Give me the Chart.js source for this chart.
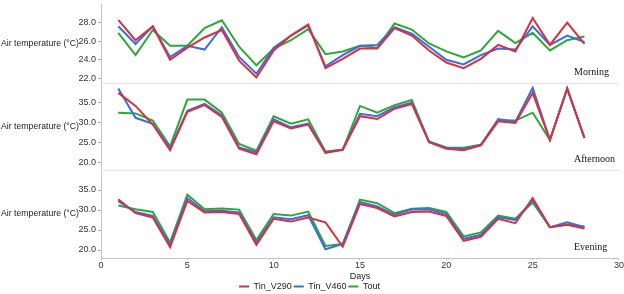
<!DOCTYPE html>
<html>
<head>
<meta charset="utf-8">
<script src="https://cdn.jsdelivr.net/npm/chart.js@4.4.1/dist/chart.umd.min.js"></script>
<style>
  body { margin: 0; background: #fff; }
  canvas { display: block; }
</style>
</head>
<body>
<canvas id="canvas" width="624" height="294"></canvas>
<script>
var days = [1, 2, 3, 4, 5, 6, 7, 8, 9, 10, 11, 12, 13, 14, 15, 16, 17, 18, 19, 20, 21, 22, 23, 24, 25, 26, 27, 28];
var seriesNames = ['Tin_V290', 'Tin_V460', 'Tout'];
var panelNames = ['Morning', 'Afternoon', 'Evening'];

var morningV290 = [28.3, 26.1, 27.6, 24.0, 25.3, 26.4, 27.2, 23.9, 22.1, 25.0, 26.6, 27.8, 23.1, 24.1, 25.2, 25.2, 27.4, 26.6, 25.0, 23.7, 23.1, 24.1, 25.6, 24.9, 28.5, 25.6, 28.0, 25.7];
var morningV460 = [27.6, 25.7, 27.6, 24.3, 25.5, 25.1, 27.5, 24.3, 22.5, 25.3, 26.6, 27.7, 23.3, 24.5, 25.5, 25.6, 27.5, 26.8, 25.4, 24.0, 23.5, 24.5, 25.2, 25.1, 27.6, 25.6, 26.6, 25.9];
var morningOut  = [26.9, 24.5, 27.2, 25.5, 25.5, 27.4, 28.25, 25.4, 23.4, 25.2, 26.1, 27.3, 24.6, 24.9, 25.5, 25.3, 27.9, 27.25, 25.75, 24.9, 24.25, 25.0, 27.1, 25.8, 26.9, 25.0, 26.1, 26.5];

var afternoonV290 = [37.5, 34.2, 29.5, 23.0, 32.7, 34.4, 31.4, 23.4, 22.0, 30.3, 28.5, 29.5, 22.3, 23.1, 31.6, 30.9, 33.5, 34.7, 25.0, 23.4, 23.0, 24.2, 30.3, 29.9, 37.5, 25.6, 38.6, 26.1];
var afternoonV460 = [38.6, 31.2, 29.7, 23.4, 33.0, 34.7, 31.8, 23.7, 22.5, 30.8, 28.8, 29.7, 22.5, 23.2, 32.2, 31.6, 33.9, 35.0, 25.1, 23.6, 23.3, 24.3, 30.9, 30.2, 38.8, 25.6, 38.6, 26.1];
var afternoonOut  = [32.5, 32.3, 30.5, 24.0, 35.8, 35.8, 32.5, 24.6, 22.9, 31.6, 29.7, 30.8, 22.7, 23.1, 34.2, 32.5, 34.4, 35.7, 25.2, 23.7, 23.6, 24.4, 30.6, 30.5, 32.5, 25.6, 38.6, 26.1];

var eveningV290 = [32.7, 29.2, 28.1, 20.7, 32.3, 29.4, 29.5, 29.0, 21.3, 27.8, 27.1, 28.1, 26.9, 20.8, 31.5, 30.5, 28.4, 29.5, 29.6, 28.5, 22.3, 23.3, 27.8, 26.7, 33.0, 25.7, 26.3, 25.4];
var eveningV460 = [32.2, 29.5, 28.5, 21.3, 33.0, 29.7, 29.8, 29.4, 21.8, 28.2, 27.7, 28.7, 20.2, 21.5, 32.0, 30.9, 28.8, 30.1, 30.2, 29.0, 22.8, 23.8, 28.2, 27.5, 32.4, 25.7, 26.9, 25.7];
var eveningOut  = [31.1, 30.2, 29.5, 21.9, 33.8, 30.2, 30.4, 30.1, 22.5, 29.0, 28.6, 29.6, 21.0, 21.5, 32.6, 31.7, 29.2, 30.3, 30.5, 29.5, 23.4, 24.4, 28.6, 27.8, 31.9, 25.7, 26.4, 25.9];

// y tick marks (major get a label, minor only a tick)
var morningTicks = [22, 24, 26, 28];
var morningMinor = [23, 25, 27, 29];
var tempTicks = [20, 25, 30, 35];
var tempMinor = [22.5, 27.5, 32.5, 37.5];
var xTicks = [0, 5, 10, 15, 20, 25, 30];

var colors = ['#d8303e', '#3a6ee0', '#2da737'];
var font = 'Liberation Sans';

function pts(arr) {
    return days.map(function (d, i) { return {x: d, y: arr[i]}; });
}

var datasets = [];
var panelData = [
    ['yM', [morningV290, morningV460, morningOut]],
    ['yA', [afternoonV290, afternoonV460, afternoonOut]],
    ['yE', [eveningV290, eveningV460, eveningOut]]
];
panelData.forEach(function (p) {
    p[1].forEach(function (arr, j) {
        datasets.push({
            label: seriesNames[j],
            yAxisID: p[0],
            data: pts(arr),
            borderColor: colors[j],
            backgroundColor: colors[j],
            borderWidth: 2,
            pointRadius: 0,
            tension: 0,
            fill: false
        });
    });
});

function yAxis(min, max, major, minor, weight) {
    return {
        type: 'linear',
        position: 'left',
        stack: 'temps',
        stackWeight: weight,
        min: min,
        max: max,
        border: {color: '#c4c4c4'},
        grid: {
            drawOnChartArea: false,
            tickLength: 3,
            tickColor: function (c) { return major.indexOf(c.tick.value) >= 0 ? '#aaa' : '#d4d4d4'; }
        },
        ticks: {
            padding: 2,
            color: '#333',
            font: {family: font, size: 9},
            callback: function (v) { return major.indexOf(v) >= 0 ? v.toFixed(1) : ''; }
        },
        afterBuildTicks: function (s) {
            s.ticks = major.concat(minor).sort(function (a, b) { return a - b; })
                .map(function (v) { return {value: v}; });
        },
        afterFit: function (s) {
            s.width = 101;
            s.paddingTop = 0;
            s.paddingBottom = 0;
        }
    };
}

var panelDeco = {
    id: 'panelDeco',
    beforeDatasetsDraw: function (chart) {
        var ctx = chart.ctx, a = chart.chartArea;
        ctx.save();
        ctx.strokeStyle = '#e3e3e3';
        ctx.lineWidth = 1;
        ['yM', 'yA'].forEach(function (id) {
            var y = Math.round(chart.scales[id].bottom) + 0.5;
            ctx.beginPath();
            ctx.moveTo(a.left, y);
            ctx.lineTo(a.right, y);
            ctx.stroke();
        });
        ctx.restore();
    },
    afterDraw: function (chart) {
        var ctx = chart.ctx;
        ctx.save();
        ['yM', 'yA', 'yE'].forEach(function (id, i) {
            var s = chart.scales[id];
            ctx.fillStyle = '#222';
            ctx.font = '9px "' + font + '"';
            ctx.textAlign = 'left';
            ctx.textBaseline = 'middle';
            ctx.fillText('Air temperature (°C)', 1, (s.top + s.bottom) / 2, 78);
            ctx.fillStyle = '#111';
            ctx.font = '10px "Liberation Serif"';
            ctx.fillText(panelNames[i], 574, s.bottom - 11);
        });
        ctx.restore();
    }
};

var config = {
    type: 'line',
    data: {datasets: datasets},
    options: {
        responsive: false,
        animation: false,
        devicePixelRatio: 1,
        layout: {padding: {top: 4, right: 5, left: 0, bottom: 0}},
        plugins: {
            tooltip: {enabled: false},
            legend: {
                position: 'bottom',
                maxHeight: 14,
                labels: {
                    usePointStyle: true,
                    pointStyle: 'line',
                    pointStyleWidth: 10,
                    boxHeight: 9,
                    padding: 2,
                    color: '#222',
                    font: {family: font, size: 9},
                    filter: function (item) { return item.datasetIndex < 3; }
                }
            }
        },
        scales: {
            x: {
                type: 'linear',
                min: 0,
                max: 30,
                border: {color: '#c4c4c4'},
                grid: {drawOnChartArea: false, tickLength: 2, color: '#c4c4c4'},
                ticks: {padding: 0, color: '#333', font: {family: font, size: 9}},
                afterBuildTicks: function (s) {
                    s.ticks = xTicks.map(function (v) { return {value: v}; });
                },
                title: {
                    display: true,
                    text: 'Days',
                    color: '#222',
                    font: {family: font, size: 9},
                    padding: {top: 0, bottom: -2}
                },
                afterFit: function (s) { s.height = 22; }
            },
            // stacked left axes: the last one listed ends up on top
            yE: yAxis(18, 40, tempTicks, tempMinor, 88),
            yA: yAxis(18, 40, tempTicks, tempMinor, 87),
            yM: yAxis(21.5, 30, morningTicks, morningMinor, 79)
        }
    },
    plugins: [panelDeco]
};

window.onload = function () {
    var ctx = document.getElementById('canvas').getContext('2d');
    window.myLine = new Chart(ctx, config);
};
</script>
</body>
</html>
